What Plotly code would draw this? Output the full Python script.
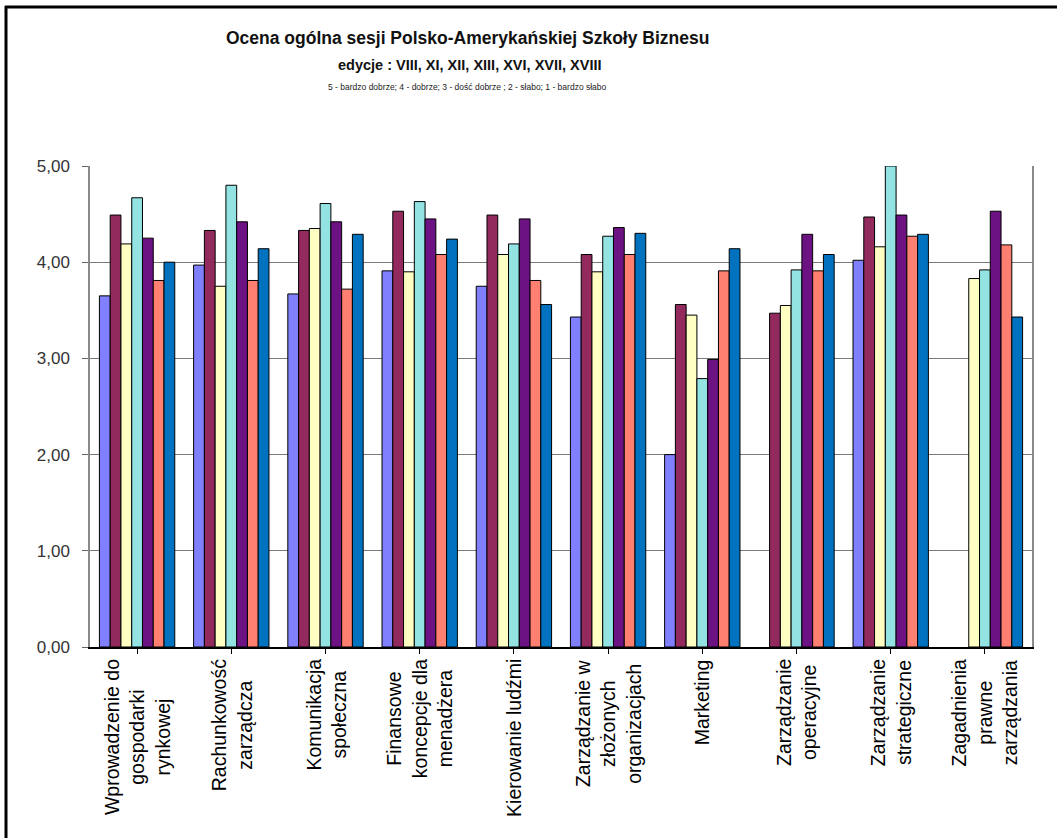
import plotly.graph_objects as go

# Course modules (x-axis categories)
categories = [
    "Wprowadzenie do<br>gospodarki<br>rynkowej",
    "Rachunkowość<br>zarządcza",
    "Komunikacja<br>społeczna",
    "Finansowe<br>koncepcje dla<br>menadżera",
    "Kierowanie ludźmi",
    "Zarządzanie w<br>złożonych<br>organizacjach",
    "Marketing",
    "Zarządzanie<br>operacyjne",
    "Zarządzanie<br>strategiczne",
    "Zagadnienia<br>prawne<br>zarządzania",
]

# Mean ratings per edition (None = module not held in that edition)
ed_viii = [3.65, 3.97, 3.67, 3.91, 3.75, 3.43, 2.00, None, 4.02, None]
ed_xi = [4.49, 4.33, 4.33, 4.53, 4.49, 4.08, 3.56, 3.47, 4.47, None]
ed_xii = [4.19, 3.75, 4.35, 3.90, 4.08, 3.90, 3.45, 3.55, 4.16, 3.83]
ed_xiii = [4.67, 4.80, 4.61, 4.63, 4.19, 4.27, 2.79, 3.92, 5.00, 3.92]
ed_xvi = [4.25, 4.42, 4.42, 4.45, 4.45, 4.36, 2.99, 4.29, 4.49, 4.53]
ed_xvii = [3.81, 3.81, 3.72, 4.08, 3.81, 4.08, 3.91, 3.91, 4.27, 4.18]
ed_xviii = [4.00, 4.14, 4.29, 4.24, 3.56, 4.30, 4.14, 4.08, 4.29, 3.43]

series_names = ["VIII", "XI", "XII", "XIII", "XVI", "XVII", "XVIII"]
series_values = [ed_viii, ed_xi, ed_xii, ed_xiii, ed_xvi, ed_xvii, ed_xviii]
series_colors = ["#8080FF", "#922A5E", "#FFFFC4", "#93E3E3", "#6C1283", "#FF8070", "#0072C0"]

y_ticks = [0, 1, 2, 3, 4, 5]

title_main = "Ocena ogólna sesji Polsko-Amerykańskiej Szkoły Biznesu"
title_sub = "edycje : VIII, XI, XII, XIII, XVI, XVII, XVIII"
title_scale = "5 - bardzo dobrze; 4 - dobrze; 3 - dość dobrze ; 2 - słabo; 1 - bardzo słabo"

W, H = 1057, 838
L, R, T, B = 90, 1032, 166, 647
FONT = "Liberation Sans, Arial, sans-serif"


def px(x):
    return (x - L) / (R - L)


def py(y):
    return (B - y) / (B - T)


fig = go.Figure()
for name, vals, col in zip(series_names, series_values, series_colors):
    fig.add_trace(go.Bar(
        name=name, x=list(range(len(categories))), y=vals,
        marker=dict(color=col, line=dict(color="#000000", width=1)),
    ))

annotations = []
# Rotated category labels under the axis
for i, lab in enumerate(categories):
    annotations.append(dict(
        x=i, xref="x", y=py(657), yref="paper", text=lab, showarrow=False,
        textangle=-90, align="center", xanchor="center", yanchor="top",
        font=dict(family=FONT, size=19.5, color="#000000"),
    ))

annotations += [
    dict(x=px(467), y=py(38), xref="paper", yref="paper", text="<b>" + title_main + "</b>",
         showarrow=False, xanchor="center", yanchor="middle",
         font=dict(family=FONT, size=17.5, color="#111111")),
    dict(x=px(470), y=py(65), xref="paper", yref="paper", text="<b>" + title_sub + "</b>",
         showarrow=False, xanchor="center", yanchor="middle",
         font=dict(family=FONT, size=14.5, color="#111111")),
    dict(x=px(467), y=py(87), xref="paper", yref="paper", text=title_scale,
         showarrow=False, xanchor="center", yanchor="middle",
         font=dict(family=FONT, size=8.5, color="#222222")),
]

shapes = [
    # outer frame (top and left edges)
    dict(type="line", xref="paper", yref="paper", x0=px(5), x1=px(W), y0=py(7), y1=py(7),
         line=dict(color="#000000", width=3)),
    dict(type="line", xref="paper", yref="paper", x0=px(6), x1=px(6), y0=py(6), y1=py(H),
         line=dict(color="#000000", width=3)),
]

fig.update_layout(
    width=W, height=H,
    margin=dict(l=L, r=W - R, t=T, b=H - B, pad=0),
    paper_bgcolor="#FFFFFF", plot_bgcolor="#FFFFFF",
    barmode="group", bargap=0.2, bargroupgap=0,
    showlegend=False,
    separators=", ",
    annotations=annotations,
    shapes=shapes,
    font=dict(family=FONT),
)

fig.update_xaxes(
    range=[-0.5, len(categories) - 0.5],
    tickvals=list(range(len(categories))), ticktext=[""] * len(categories),
    tickson="boundaries", ticks="outside", ticklen=5, tickcolor="#000000",
    showline=True, linecolor="#000000", linewidth=1.5,
    showgrid=False, zeroline=False,
)

fig.update_yaxes(
    range=[0, 5], tickvals=y_ticks, tickformat=".2f",
    ticks="outside", ticklen=6, tickcolor="#666666",
    showline=True, linecolor="#8a8a8a", linewidth=1.5, mirror=True,
    showgrid=True, gridcolor="#7a7a7a", gridwidth=1.3,
    zeroline=False,
    tickfont=dict(family=FONT, size=17, color="#333333"),
    ticklabelstandoff=9,
)

fig.write_html("out.html")
